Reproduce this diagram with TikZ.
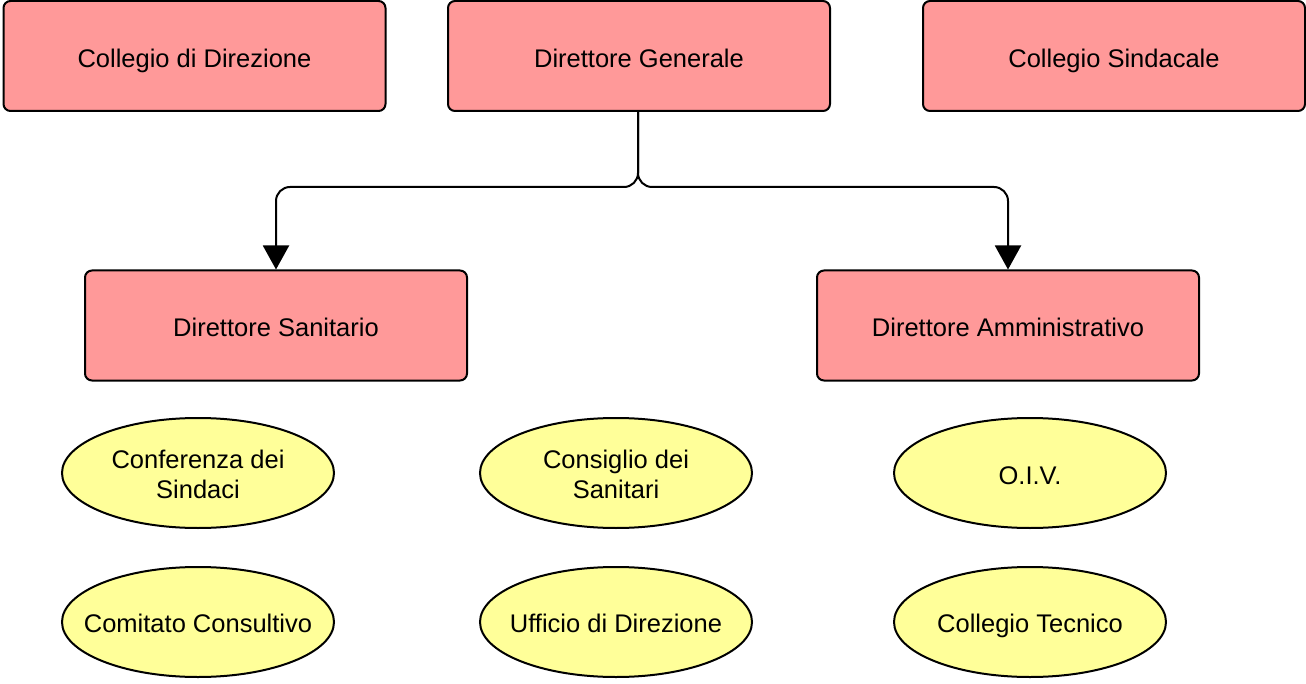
\documentclass[tikz,border=0pt]{standalone}
\usepackage{fontspec}
\setmainfont{Liberation Sans}
\usetikzlibrary{arrows.meta,shapes.geometric}
\definecolor{boxred}{HTML}{FF9999}
\definecolor{ellyellow}{HTML}{FFFF99}
\begin{document}
\begin{tikzpicture}[x=1pt,y=-1pt,
  font=\fontsize{25.5}{30}\selectfont,
  rbox/.style={draw=black, line width=2pt, fill=boxred, rounded corners=7pt,
    minimum width=382pt, minimum height=110pt, inner sep=0pt,
    text height=23pt, text depth=0pt},
  oval/.style={draw=black, line width=2pt, fill=ellyellow, ellipse,
    minimum width=272pt, minimum height=110pt, inner sep=0pt},
  ovaltext/.style={align=center, inner sep=0pt},
  onetext/.style={inner sep=0pt, text height=18pt, text depth=5pt},
  conn/.style={draw=black, line width=2pt, rounded corners=14pt,
    -{Triangle[length=24pt,width=26pt]}}]
\useasboundingbox (0,0) rectangle (1306,684);
\node[rbox] (cd) at (194.5,56) {Collegio di Direzione};
\node[rbox] (dg) at (639,56) {Direttore Generale};
\node[rbox] (cs) at (1114,56) {Collegio Sindacale};
\node[rbox] (ds) at (276,325.5) {Direttore Sanitario};
\node[rbox] (da) at (1008,325.5) {Direttore Amministrativo};
\node[oval] (e1) at (198,473) {};
\node[oval] (e2) at (616,473) {};
\node[oval] (e3) at (1030,473) {};
\node[oval] (e4) at (198,622) {};
\node[oval] (e5) at (616,622) {};
\node[oval] (e6) at (1030,622) {};
\node[ovaltext] (t1) at ([yshift=-1pt]e1) {Conferenza dei\\Sindaci};
\node[ovaltext] (t2) at ([yshift=-1pt]e2) {Consiglio dei\\Sanitari};
\node[onetext] (t3) at ([yshift=-5pt]e3) {O.I.V.};
\node[onetext] (t4) at ([yshift=-4pt]e4) {Comitato Consultivo};
\node[onetext] (t5) at ([yshift=-4pt]e5) {Ufficio di Direzione};
\node[onetext] (t6) at ([yshift=-4pt]e6) {Collegio Tecnico};
\coordinate (j) at (638,187);
\draw[conn] (dg.south -| j) -- (j) -- (j -| ds.north) -- (ds.north);
\draw[conn] (dg.south -| j) -- (j) -- (j -| da.north) -- (da.north);
\end{tikzpicture}
\end{document}
